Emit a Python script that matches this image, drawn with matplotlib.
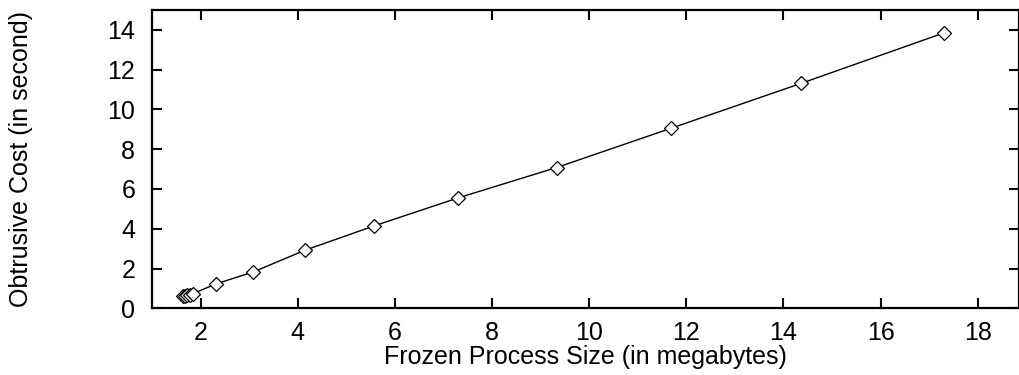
import matplotlib.pyplot as plt

# data
size_mb = [1.63, 1.68, 1.73, 1.78, 1.85, 2.31, 3.08, 4.15, 5.58, 7.30, 9.33, 11.68, 14.37, 17.30]
cost_s = [0.60, 0.63, 0.66, 0.69, 0.74, 1.22, 1.82, 2.92, 4.15, 5.55, 7.08, 9.05, 11.32, 13.85]

xticks = [2, 4, 6, 8, 10, 12, 14, 16, 18]
yticks = [0, 2, 4, 6, 8, 10, 12, 14]

plt.rcParams['font.family'] = ['Liberation Sans', 'DejaVu Sans']

fig = plt.figure(figsize=(10.2, 3.75), dpi=100)
ax = fig.add_axes([0.149, 0.178, 0.850, 0.795])

ax.plot(size_mb, cost_s, color="black", linewidth=1.0, marker="D", markersize=7,
        markerfacecolor="white", markeredgecolor="black", markeredgewidth=0.9)

ax.set_xlim(1, 18.85)
ax.set_ylim(0, 15)
ax.set_xticks(xticks)
ax.set_yticks(yticks)
ax.tick_params(direction="in", length=7, width=1.5, top=True, right=True,
               labelsize=18)
ax.tick_params(axis="x", pad=9)
ax.tick_params(axis="y", pad=12)
for s in ax.spines.values():
    s.set_linewidth(1.6)

ax.set_xlabel("Frozen Process Size (in megabytes)", fontsize=18)
ax.set_ylabel("Obtrusive Cost (in second)", fontsize=18)
ax.xaxis.set_label_coords(0.5, -0.122)
ax.yaxis.set_label_coords(-0.137, 0.5)

fig.savefig("out.png", dpi=100)
